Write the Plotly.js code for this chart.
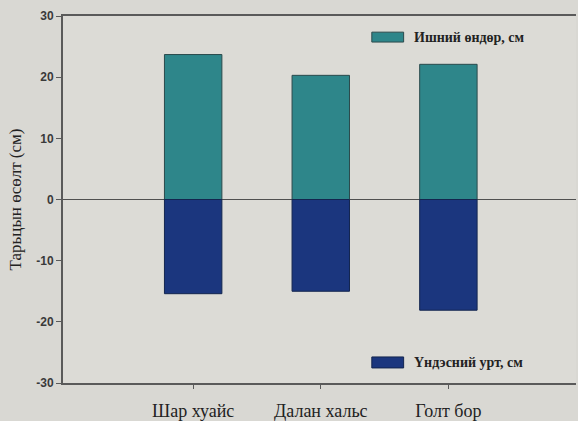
<!DOCTYPE html>
<html>
<head>
<meta charset="utf-8">
<script src="https://cdn.plot.ly/plotly-3.0.1.min.js"></script>
<style>
  html, body { margin: 0; padding: 0; background: #d9d8d3; }
  #chart { width: 578px; height: 421px; }
</style>
</head>
<body>
<div id="chart"></div>
<script>
// Tree species and seedling measurements (cm)
const species = ["Шар хуайс", "Далан хальс", "Голт бор"];
const stemHeight = [23.7, 20.3, 22.1];
const rootLength = [-15.4, -15.0, -18.1];
const seriesNames = ["Ишний өндөр, см", "Үндэсний урт, см"];
const yTicks = [-30, -20, -10, 0, 10, 20, 30];

const teal = "#2e868a";
const navy = "#1b367e";
const serif = "Liberation Serif, Times New Roman, serif";
const sans = "Liberation Sans, Arial, sans-serif";

const traces = [
  {
    type: "bar", x: species, y: stemHeight, name: seriesNames[0],
    width: 0.45, marker: { color: teal, line: { color: "#2a4a4c", width: 1 } },
    showlegend: false
  },
  {
    type: "bar", x: species, y: rootLength, name: seriesNames[1],
    width: 0.45, marker: { color: navy, line: { color: "#13254f", width: 1 } },
    showlegend: false
  }
];

// Legend entries drawn as swatch + label (upper and lower right of the plot)
const legendSpots = [
  { y0: 0.929, y1: 0.956, color: teal, line: "#2a4a4c" },
  { y0: 0.041, y1: 0.071, color: navy, line: "#13254f" }
];
const shapes = legendSpots.map(s => ({
  type: "rect", xref: "paper", yref: "paper",
  x0: 0.602, x1: 0.664, y0: s.y0, y1: s.y1,
  fillcolor: s.color, line: { color: s.line, width: 1 }
}));
const annotations = legendSpots.map((s, i) => ({
  xref: "paper", yref: "paper", x: 0.681, y: (s.y0 + s.y1) / 2,
  xanchor: "left", yanchor: "middle", showarrow: false,
  text: "<b>" + seriesNames[i] + "</b>",
  font: { family: serif, size: 14, color: "#222" }
}));

const layout = {
  width: 578, height: 421,
  margin: { l: 63, r: 2, t: 16, b: 38 },
  paper_bgcolor: "#d9d8d3",
  plot_bgcolor: "#dcdbd6",
  barmode: "relative",
  showlegend: false,
  xaxis: {
    type: "category", range: [-1.02, 3.0],
    showline: true, linecolor: "#5a5a5a", linewidth: 2, mirror: true,
    ticks: "outside", ticklen: 4, tickcolor: "#5a5a5a",
    ticklabelstandoff: 6,
    showgrid: false, zeroline: false,
    tickfont: { family: serif, size: 18, color: "#222" }
  },
  yaxis: {
    range: [-30, 30], tickvals: yTicks, ticktext: yTicks.map(v => "<b>" + v + "</b>"),
    showline: true, linecolor: "#5a5a5a", linewidth: 2,
    ticks: "outside", ticklen: 5, tickcolor: "#5a5a5a",
    showgrid: false, zeroline: true, zerolinecolor: "#505050", zerolinewidth: 1.5,
    tickfont: { family: sans, size: 12, color: "#3a3a3a" },
    title: { text: "Тарьцын өсөлт (см)", standoff: 10,
      font: { family: serif, size: 17, color: "#222" } }
  },
  shapes: shapes,
  annotations: annotations
};

Plotly.newPlot("chart", traces, layout, { staticPlot: true, displayModeBar: false });
</script>
</body>
</html>
